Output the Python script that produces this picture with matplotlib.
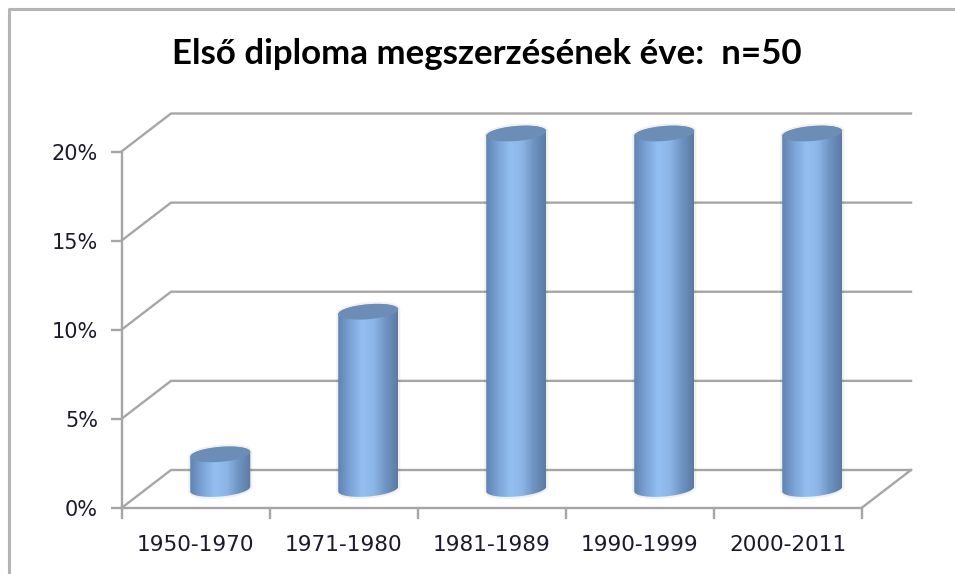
"""Első diploma chart: fake-3D cylinders drawn on a plain 2D axes."""

import matplotlib
matplotlib.use("Agg")
import matplotlib.pyplot as plt
from matplotlib.colors import LinearSegmentedColormap
from matplotlib.path import Path
from matplotlib.patches import PathPatch
import numpy as np

categories = ["1950-1970", "1971-1980", "1981-1989", "1990-1999", "2000-2011"]
values = [2, 10, 20, 20, 20]
y_ticks = [0, 5, 10, 15, 20]
title = "Első diploma megszerzésének éve:  n=50"

W, H = 955, 574
GRID = "#a6a6a6"
TEXT = "#1a1a2a"

# axes box is the front plane of the 3D chart, in pixels
left, right, top, bottom = 121.5, 861.5, 151.5, 508.0
px_x = (right - left) / 5
px_y = (bottom - top) / 20
depth_x = 49.5 / px_x
depth_y = 38.0 / px_y

fig = plt.figure(figsize=(W / 100, H / 100), dpi=100, facecolor="white")
ax = fig.add_axes([left / W, 1 - bottom / H, (right - left) / W, (bottom - top) / H])
ax.set_facecolor("none")

# outer chart frame
fig.add_artist(plt.Line2D([8.5 / W, 8.5 / W, 1], [0, 1 - 9 / H, 1 - 9 / H],
                          color="#b4b4b4", lw=2.2, transform=fig.transFigure))

# gridlines: slanted side wall, then along the back wall
for v in y_ticks:
    ax.plot([0, depth_x, 5 + depth_x], [v, v + depth_y, v + depth_y],
            color=GRID, lw=1.7, clip_on=False, zorder=1)
ax.plot([5, 5 + depth_x], [0, depth_y], color=GRID, lw=1.7, clip_on=False, zorder=1)

cyl = LinearSegmentedColormap.from_list(
    "cyl", ["#5f83b0", "#7ba3d6", "#93bff2", "#8db6e8", "#6f94c2", "#5a7ba3"])
grad = np.linspace(0, 1, 128).reshape(1, -1)

half_w = 30.0 / px_x
half_h = 7.5 / px_y
tilt = 2.4 / px_y
ts = np.linspace(0, 2 * np.pi, 73)

for i, val in enumerate(values):
    cx = i + 0.5 + depth_x / 2
    base = depth_y / 2
    topy = base + val - 1.0 / px_y

    # front half of the base ellipse closes the body outline
    t_low = np.linspace(np.pi, 2 * np.pi, 37)
    t_top = np.linspace(0, np.pi, 37)
    xs = np.r_[cx + half_w * np.cos(t_low), cx + half_w * np.cos(t_top)]
    ys = np.r_[base + half_h * np.sin(t_low) + tilt * np.cos(t_low),
               topy + half_h * np.sin(t_top) + tilt * np.cos(t_top)]
    verts = np.c_[xs, ys]

    # soft halo around the cylinder
    ax.fill(xs, ys, fc="none", ec="#000000", alpha=0.06, lw=3.0, clip_on=False, zorder=2)
    body = PathPatch(Path(np.vstack([verts, verts[0]]), closed=True),
                     fc="none", ec="none", transform=ax.transData)
    ax.add_patch(body)
    body.set_clip_on(False)
    im = ax.imshow(grad, cmap=cyl, aspect="auto", interpolation="bilinear",
                   extent=(cx - half_w, cx + half_w, base - half_h - tilt, topy + half_h + tilt),
                   zorder=3)
    im.set_clip_box(fig.bbox)  # tops stick out above the front plane
    im.set_clip_path(body)

    ax.fill(cx + half_w * np.cos(ts),
            topy + half_h * np.sin(ts) + tilt * np.cos(ts),
            fc="#6c8db6", ec="none", clip_on=False, zorder=4)

ax.set_xlim(0, 5)
ax.set_ylim(0, 20)
for side in ("top", "right"):
    ax.spines[side].set_visible(False)
for side in ("left", "bottom"):
    ax.spines[side].set_color(GRID)
    ax.spines[side].set_linewidth(1.7)

ax.set_yticks(y_ticks)
ax.set_yticklabels([f"{v}%" for v in y_ticks], fontsize=15, color=TEXT, family="DejaVu Sans")
ax.set_xticks(range(6))
ax.set_xticklabels([])
ax.set_xticks([i + 0.5 for i in range(5)], minor=True)
ax.set_xticklabels(categories, minor=True, fontsize=15.6, color=TEXT, family="DejaVu Sans")
ax.tick_params(axis="x", which="major", color=GRID, width=1.7, length=8, direction="out")
ax.tick_params(axis="x", which="minor", length=0, pad=19.5)
ax.tick_params(axis="y", color=GRID, width=1.7, length=8, direction="out", pad=9)

fig.text(487 / W, 1 - 54 / H, title, ha="center", va="center",
         fontsize=25.1, fontweight="bold", family="Lato", color="#000000")

fig.savefig("out.png", dpi=100)
